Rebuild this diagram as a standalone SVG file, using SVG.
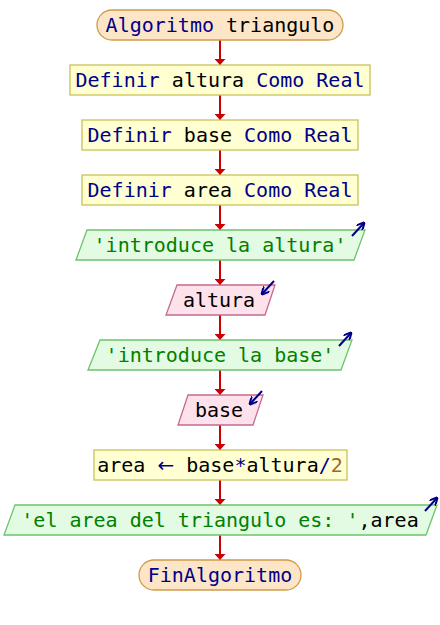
<svg xmlns="http://www.w3.org/2000/svg" width="440" height="625" viewBox="0 0 440 625">
  <defs>
    <style>
      .term { fill: #fde6c8; stroke: #cf9a4a; stroke-width: 1.3; }
      .proc { fill: #ffffd2; stroke: #c9c25a; stroke-width: 1.3; }
      .out  { fill: #e3fbe3; stroke: #6cc46c; stroke-width: 1.3; }
      .inp  { fill: #fde2ec; stroke: #c46a8e; stroke-width: 1.3; }
      text { font-family: "DejaVu Sans Mono", "Liberation Mono", monospace; font-size: 20px; text-anchor: middle; fill: #000000; }
      .kw  { fill: #00008b; }
      .str { fill: #008000; }
      .num { fill: #a0662a; }
      .op  { fill: #00008b; }
      .arrow { font-family: "DejaVu Sans", sans-serif; fill: #00008b; }
      .flow { stroke: #cc0000; stroke-width: 2; fill: none; marker-end: url(#head); }
      .io { stroke: #00008b; stroke-width: 2; fill: none; marker-end: url(#ioHead); }
    </style>
    <marker id="head" viewBox="0 0 6 11" refX="6" refY="5.5" markerWidth="6" markerHeight="11" markerUnits="userSpaceOnUse" orient="auto">
      <path d="M0,0 L6,5.5 L0,11 Z" fill="#cc0000"/>
    </marker>
    <marker id="ioHead" viewBox="0 0 8 8" refX="7" refY="4" markerWidth="8" markerHeight="8" markerUnits="userSpaceOnUse" orient="auto">
      <path d="M0,0 L8,4 L0,8" fill="none" stroke="#00008b" stroke-width="2"/>
    </marker>
  </defs>

  <rect width="440" height="625" fill="#ffffff"/>

  <g id="connectors">
    <line class="flow" x1="220" y1="40" x2="220" y2="65"/>
    <line class="flow" x1="220" y1="95" x2="220" y2="120"/>
    <line class="flow" x1="220" y1="150" x2="220" y2="175"/>
    <line class="flow" x1="220" y1="205" x2="220" y2="230"/>
    <line class="flow" x1="220" y1="260" x2="220" y2="285"/>
    <line class="flow" x1="220" y1="315" x2="220" y2="340"/>
    <line class="flow" x1="220" y1="370" x2="220" y2="395"/>
    <line class="flow" x1="220" y1="425" x2="220" y2="450"/>
    <line class="flow" x1="220" y1="480" x2="220" y2="505"/>
    <line class="flow" x1="220" y1="535" x2="220" y2="560"/>
  </g>

  <g id="start">
    <rect class="term" x="97" y="10" width="246" height="30" rx="15" ry="15"/>
    <text x="220" y="32"><tspan class="kw">Algoritmo</tspan> triangulo</text>
  </g>

  <g id="def-altura">
    <rect class="proc" x="70" y="65" width="300" height="30"/>
    <text x="220" y="87"><tspan class="kw">Definir</tspan> altura <tspan class="kw">Como Real</tspan></text>
  </g>

  <g id="def-base">
    <rect class="proc" x="82" y="120" width="276" height="30"/>
    <text x="220" y="142"><tspan class="kw">Definir</tspan> base <tspan class="kw">Como Real</tspan></text>
  </g>

  <g id="def-area">
    <rect class="proc" x="82" y="175" width="276" height="30"/>
    <text x="220" y="197"><tspan class="kw">Definir</tspan> area <tspan class="kw">Como Real</tspan></text>
  </g>

  <g id="out-altura">
    <polygon class="out" points="87,230 365,230 354,260 76,260"/>
    <text x="220" y="252" class="str">'introduce la altura'</text>
    <line class="io" x1="352" y1="236" x2="364" y2="223"/>
  </g>

  <g id="in-altura">
    <polygon class="inp" points="177,285 275,285 265,315 166,315"/>
    <text x="219" y="307">altura</text>
    <line class="io" x1="274" y1="281" x2="262" y2="294"/>
  </g>

  <g id="out-base">
    <polygon class="out" points="100,340 352,340 341,370 88,370"/>
    <text x="220" y="362" class="str">'introduce la base'</text>
    <line class="io" x1="339" y1="346" x2="351" y2="333"/>
  </g>

  <g id="in-base">
    <polygon class="inp" points="188,395 263,395 253,425 178,425"/>
    <text x="219" y="417">base</text>
    <line class="io" x1="262" y1="391" x2="250" y2="404"/>
  </g>

  <g id="calc-area">
    <rect class="proc" x="94" y="450" width="253" height="30"/>
    <text x="220" y="472">area <tspan class="arrow">←</tspan> base<tspan class="op">*</tspan>altura<tspan class="op">/</tspan><tspan class="num">2</tspan></text>
  </g>

  <g id="out-area">
    <polygon class="out" points="15,505 437,505 426,535 4,535"/>
    <text x="220" y="527"><tspan class="str">'el area del triangulo es: '</tspan>,area</text>
    <line class="io" x1="425" y1="511" x2="437" y2="498"/>
  </g>

  <g id="end">
    <rect class="term" x="139" y="560" width="162" height="30" rx="15" ry="15"/>
    <text x="220" y="582" class="kw">FinAlgoritmo</text>
  </g>
</svg>
